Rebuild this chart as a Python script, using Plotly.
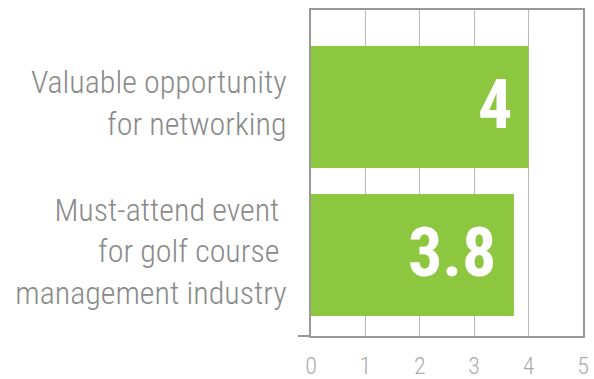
import plotly.graph_objects as go

categories = ["Valuable opportunity<br>for networking",
              "Must-attend event\u00a0<br>for golf course\u00a0<br>management industry"]
bar_values = [4.0, 3.73]
value_labels = ["4", "3.8"]
x_ticks = [0, 1, 2, 3, 4, 5]

GREEN = "#8dc63f"
FONT = "Roboto Condensed, DejaVu Sans Condensed, Liberation Sans Narrow, Roboto, sans-serif"

fig = go.Figure()
fig.add_trace(go.Bar(
    x=bar_values, y=categories, orientation="h",
    marker=dict(color=GREEN, line=dict(width=0)),
    width=0.824, hoverinfo="skip",
))

for v, lab, c in zip(bar_values, value_labels, categories):
    fig.add_annotation(x=v, y=c, text="<b>%s</b>" % lab, showarrow=False,
                       xanchor="right", yanchor="middle", xshift=-15, yshift=2,
                       font=dict(family=FONT, size=68, color="white"))

# short tick at the lower-left corner
fig.add_shape(type="line", xref="paper", yref="paper",
              x0=-13 / 272, x1=0, y0=0, y1=0,
              line=dict(color="#999999", width=2))

fig.update_layout(
    width=594, height=379,
    margin=dict(l=311, r=11, t=10, b=43, autoexpand=False),
    paper_bgcolor="white", plot_bgcolor="white",
    showlegend=False,
    xaxis=dict(range=[0, 5], tickvals=x_ticks, ticktext=[str(t) for t in x_ticks],
               automargin=False,
               showgrid=True, gridcolor="#b8b8b8", gridwidth=1,
               showline=True, linecolor="#999999", linewidth=2, mirror=True,
               zeroline=False, ticks="", ticklabelstandoff=7,
               tickfont=dict(family=FONT, size=24, color="#ababab", weight=300)),
    yaxis=dict(type="category", categoryorder="array", categoryarray=categories,
               range=[1.547, -0.655], automargin=False,
               showgrid=False, showline=True, linecolor="#999999", linewidth=2,
               mirror=True, zeroline=False, ticks="", ticklabelstandoff=16,
               ticklabelshift=4,
               tickfont=dict(family=FONT, size=32, color="#8a8a8a", weight=300)),
)

fig.write_html("out.html")
